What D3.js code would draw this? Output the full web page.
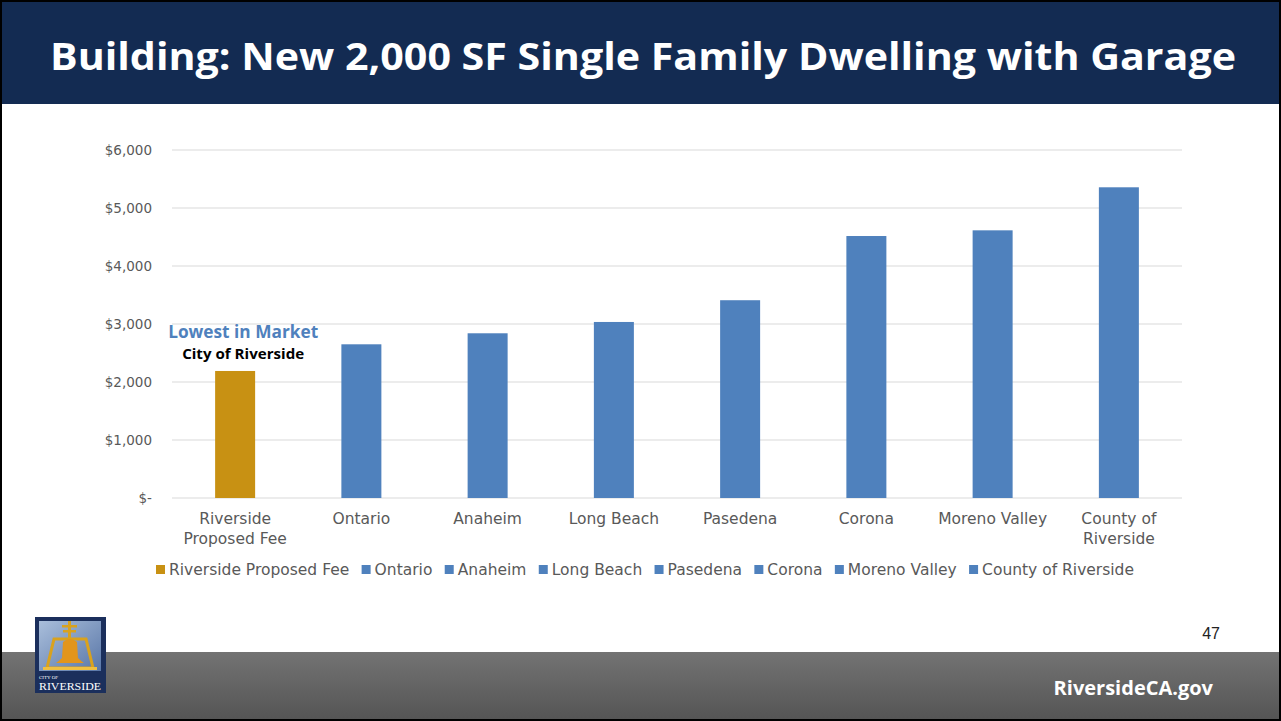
<!DOCTYPE html>
<html><head><meta charset="utf-8">
<script src="https://cdn.jsdelivr.net/npm/d3@7"></script>
<style>html,body{margin:0;padding:0;background:#000;}svg{display:block;}</style>
</head><body>
<svg id="c" width="1281" height="721"></svg>
<script>
const categories = ["Riverside Proposed Fee","Ontario","Anaheim","Long Beach","Pasedena","Corona","Moreno Valley","County of Riverside"];
const axisLabels = [["Riverside","Proposed Fee"],["Ontario"],["Anaheim"],["Long Beach"],["Pasedena"],["Corona"],["Moreno Valley"],["County of","Riverside"]];
const values = [2190, 2650, 2840, 3035, 3410, 4517, 4615, 5357];
const yTicks = [0,1000,2000,3000,4000,5000,6000];
const colors = ["#C89113","#4F81BD","#4F81BD","#4F81BD","#4F81BD","#4F81BD","#4F81BD","#4F81BD"];
const title = "Building: New 2,000 SF Single Family Dwelling with Garage";
const annotation1 = "Lowest in Market";
const annotation2 = "City of Riverside";

(function(){
const svg = d3.select("#c");
const W = 1281, H = 721;
const FONT = "'DejaVu Sans', sans-serif";

svg.append("rect").attr("x",0).attr("y",0).attr("width",W).attr("height",H).attr("fill","#000");
svg.append("rect").attr("x",2).attr("y",2).attr("width",W-4).attr("height",H-4).attr("fill","#fff");

svg.append("rect").attr("x",2).attr("y",2).attr("width",W-4).attr("height",102).attr("fill","#132B52");
svg.append("text").attr("x",643).attr("y",70).attr("text-anchor","middle")
  .attr("fill","#fff").attr("font-family","'Open Sans', sans-serif").attr("font-weight","bold")
  .attr("font-size",38).attr("textLength",1186).attr("lengthAdjust","spacingAndGlyphs").text(title);

const defs = svg.append("defs");
const g1 = defs.append("linearGradient").attr("id","fg").attr("x1",0).attr("y1",0).attr("x2",0).attr("y2",1);
g1.append("stop").attr("offset","0").attr("stop-color","#737373");
g1.append("stop").attr("offset","1").attr("stop-color","#555555");
svg.append("rect").attr("x",2).attr("y",652).attr("width",W-4).attr("height",67).attr("fill","url(#fg)");
svg.append("text").attr("x",1213).attr("y",695).attr("text-anchor","end").attr("fill","#fff")
  .attr("font-family","'Open Sans', sans-serif").attr("font-weight","bold").attr("font-size",20).text("RiversideCA.gov");
svg.append("text").attr("x",1220).attr("y",639).attr("text-anchor","end").attr("fill","#222")
  .attr("font-family","'Liberation Sans Narrow','Liberation Sans', sans-serif").attr("font-size",16).text("47");

const lg = svg.append("g");
lg.append("rect").attr("x",35).attr("y",617).attr("width",71).attr("height",76).attr("fill","#1B2F5C");
const g2 = defs.append("linearGradient").attr("id","lb").attr("x1",0).attr("y1",0).attr("x2",1).attr("y2",1);
g2.append("stop").attr("offset","0").attr("stop-color","#A9BEDB");
g2.append("stop").attr("offset","1").attr("stop-color","#5A77A8");
lg.append("rect").attr("x",39).attr("y",621).attr("width",62).attr("height",50).attr("fill","url(#lb)");
lg.append("rect").attr("x",68).attr("y",621).attr("width",3).attr("height",20).attr("fill","#D9A21E");
lg.append("rect").attr("x",62).attr("y",625).attr("width",15).attr("height",2.5).attr("fill","#D9A21E");
lg.append("rect").attr("x",63).attr("y",630).attr("width",13).attr("height",2.5).attr("fill","#D9A21E");
lg.append("path").attr("d","M54,639 L86,639 L93,668 L47,668 Z").attr("fill","none").attr("stroke","#D9A21E").attr("stroke-width",3);
lg.append("path").attr("d","M63,642 Q70,636 77,642 L78,658 Q82,662 84,663 L56,663 Q59,661 62,658 Z").attr("fill","#E2951B");
lg.append("rect").attr("x",43).attr("y",667).attr("width",54).attr("height",3).attr("fill","#F0C040");
lg.append("text").attr("x",39).attr("y",679).attr("fill","#fff").attr("font-family","'Liberation Serif', serif").attr("font-size",5).text("CITY OF");
lg.append("text").attr("x",70).attr("y",690).attr("text-anchor","middle").attr("fill","#fff")
  .attr("font-family","'Liberation Serif', serif").attr("font-size",11).attr("textLength",62).attr("lengthAdjust","spacingAndGlyphs").text("RIVERSIDE");

const pLeft = 172, pRight = 1182, pTop = 150, pBottom = 498;
const x = d3.scaleBand().domain(categories).range([pLeft, pRight]).paddingInner(0).paddingOuter(0);
const y = d3.scaleLinear().domain([0, 6000]).range([pBottom, pTop]);
const barW = 40;

const grid = svg.append("g");
grid.selectAll("line").data(yTicks).join("line")
  .attr("x1",pLeft).attr("x2",pRight).attr("y1",d=>y(d)).attr("y2",d=>y(d))
  .attr("stroke","#D9D9D9").attr("stroke-width",1);

const fmt = d => d === 0 ? "$-" : "$" + d3.format(",")(d);
const yAxis = svg.append("g").attr("transform",`translate(${pLeft},0)`)
  .call(d3.axisLeft(y).tickValues(yTicks).tickFormat(fmt).tickSize(0).tickPadding(20));
yAxis.select(".domain").remove();
yAxis.selectAll("text").attr("fill","#595959").attr("font-family",FONT).attr("font-size",13.5);

svg.append("g").selectAll("rect").data(values).join("rect")
  .attr("x",(d,i)=>x(categories[i]) + x.bandwidth()/2 - barW/2)
  .attr("y",d=>y(d)).attr("width",barW).attr("height",d=>y(0)-y(d))
  .attr("fill",(d,i)=>colors[i]);

const xl = svg.append("g");
axisLabels.forEach((lines,i)=>{
  const cx = x(categories[i]) + x.bandwidth()/2;
  const t = xl.append("text").attr("x",cx).attr("y",524)
    .attr("text-anchor","middle").attr("fill","#595959").attr("font-family",FONT).attr("font-size",15.5);
  lines.forEach((s,j)=>t.append("tspan").attr("x",cx).attr("dy", j===0?0:20).text(s));
});

const cx0 = x(categories[0]) + x.bandwidth()/2;
svg.append("text").attr("x",cx0+8).attr("y",338).attr("text-anchor","middle").attr("fill","#4F81BD")
  .attr("font-family","'Open Sans', sans-serif").attr("font-weight","bold").attr("font-size",17)
  .attr("textLength",150).attr("lengthAdjust","spacingAndGlyphs").text(annotation1);
svg.append("text").attr("x",cx0+8).attr("y",359).attr("text-anchor","middle").attr("fill","#000")
  .attr("font-family","'Open Sans', sans-serif").attr("font-weight","bold").attr("font-size",14)
  .attr("textLength",122).attr("lengthAdjust","spacingAndGlyphs").text(annotation2);

const leg = svg.append("g");
const legL = 156, legR = 1134, sw = 9, sg = 4;
const items = categories.map((c,i)=>{
  const it = leg.append("g");
  const r = it.append("rect").attr("y",565).attr("width",sw).attr("height",sw).attr("fill",colors[i]);
  const t = it.append("text").attr("y",575).attr("fill","#595959")
    .attr("font-family",FONT).attr("font-size",15.5).text(c);
  return {r, t, w: t.node().getComputedTextLength()};
});
const content = d3.sum(items, d => sw + sg + d.w);
const gap = Math.max(4, (legR - legL - content) / (items.length - 1));
const totalW = content + gap * (items.length - 1);
let lx = (legL + legR) / 2 - totalW / 2;
items.forEach(d=>{
  d.r.attr("x", lx);
  d.t.attr("x", lx + sw + sg);
  lx += sw + sg + d.w + gap;
});
})();
</script>
</body></html>
